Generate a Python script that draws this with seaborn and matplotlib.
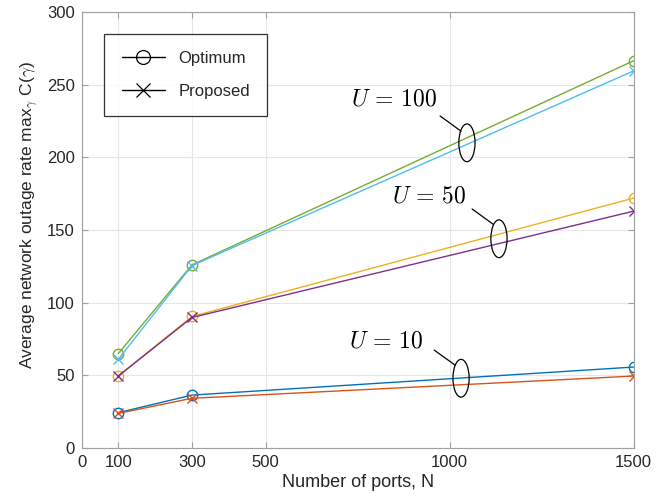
import matplotlib
matplotlib.use("Agg")
import matplotlib.pyplot as plt
from matplotlib.lines import Line2D
from matplotlib.patches import Ellipse
import numpy as np
import pandas as pd
import seaborn as sns

# Number of ports
ports = [100, 300, 1500]

# Average network outage rate for each user count
u10_optimum = [24.3, 36.4, 55.7]
u10_proposed = [23.8, 34.2, 49.5]
u50_optimum = [49.7, 90.5, 172.0]
u50_proposed = [49.5, 89.8, 163.0]
u100_optimum = [65.0, 126.0, 266.5]
u100_proposed = [61.0, 125.5, 259.5]

x_ticks = [0, 100, 300, 500, 1000, 1500]
y_ticks = [0, 50, 100, 150, 200, 250, 300]

series = [
    ("U10 Optimum", u10_optimum, "#0072BD", "o"),
    ("U10 Proposed", u10_proposed, "#D95319", "x"),
    ("U50 Optimum", u50_optimum, "#EDB120", "o"),
    ("U50 Proposed", u50_proposed, "#7E2F8E", "x"),
    ("U100 Optimum", u100_optimum, "#77AC30", "o"),
    ("U100 Proposed", u100_proposed, "#4DBEEE", "x"),
]

sns.set_theme(style="white")
plt.rcParams["font.family"] = ["Liberation Sans", "DejaVu Sans"]
plt.rcParams["mathtext.fontset"] = "cm"

fig = plt.figure(figsize=(6.72, 4.97), dpi=100)
ax = fig.add_axes([0.1213, 0.0986, 0.8217, 0.8772])

for name, vals, color, mk in series:
    df = pd.DataFrame({"N": ports, "C": vals})
    sns.lineplot(data=df, x="N", y="C", ax=ax, color=color, linewidth=1.0,
                 marker=mk, markersize=7.5 if mk == "o" else 6.5,
                 markerfacecolor="none", markeredgecolor=color,
                 markeredgewidth=1.0)

ax.set_xlim(0, 1500)
ax.set_ylim(0, 300)
ax.set_xticks(x_ticks)
ax.set_yticks(y_ticks)
ax.grid(True, color="#e6e6e6", linewidth=0.8)
ax.set_axisbelow(True)
for sp in ax.spines.values():
    sp.set_color("#a0a0a0")
    sp.set_linewidth(0.8)
ax.tick_params(direction="in", length=4, width=0.8, color="#a0a0a0",
               top=True, right=True, bottom=True, left=True,
               labelsize=12, labelcolor="#262626", pad=5)

ax.set_xlabel("Number of ports, N", fontsize=13, color="#262626", labelpad=3)
ax.set_ylabel(r"Average network outage rate max$_{\gamma}$ C($\gamma$)",
              fontsize=12.5, color="#262626")
ax.yaxis.set_label_coords(-0.074, 0.535)

# Group markers: ellipse around each pair of curves with a labelled leader
groups = [
    (r"$U\,=\,100$", (1047, 210), (1031, 218), (974, 228.5), (849, 240)),
    (r"$U\,=\,50$", (1134, 144), (1118, 154), (1061, 164.5), (944, 173)),
    (r"$U\,=\,10$", (1031, 48), (1015, 57), (958, 67.4), (827, 73.6)),
]
for label, c, p0, p1, tpos in groups:
    ax.add_patch(Ellipse(c, width=44, height=26, fill=False,
                         edgecolor="black", linewidth=0.9, zorder=5))
    ax.plot([p0[0], p1[0]], [p0[1], p1[1]], color="black", linewidth=0.9,
            zorder=5)
    ax.text(tpos[0], tpos[1], label, fontsize=17, ha="center", va="center",
            color="black")

handles = [
    Line2D([], [], color="black", linewidth=1.0, marker="o", markersize=10,
           markerfacecolor="none", markeredgewidth=0.9),
    Line2D([], [], color="black", linewidth=1.0, marker="x", markersize=10,
           markeredgewidth=0.9),
]
leg = ax.legend(handles, ["Optimum", "Proposed"], loc="upper left",
                bbox_to_anchor=(0.041, 0.95), borderaxespad=0.0,
                fontsize=12, frameon=True, fancybox=False, edgecolor="black",
                handlelength=2.6, borderpad=1.05, labelspacing=1.05,
                handletextpad=0.8)
leg.get_frame().set_linewidth(0.9)

fig.savefig("out.png", dpi=100)
